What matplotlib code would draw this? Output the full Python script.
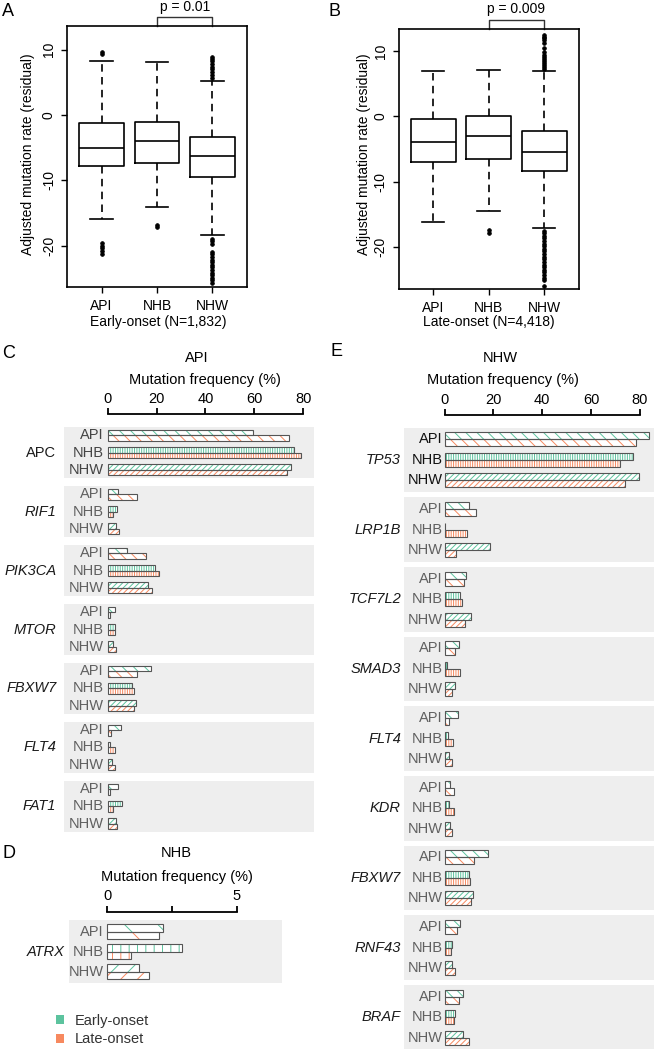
import matplotlib
matplotlib.use('Agg')
import matplotlib.pyplot as plt
import matplotlib.transforms as mtransforms
from matplotlib.patches import Patch

plt.rcParams['font.family'] = ['Liberation Sans', 'DejaVu Sans']
plt.rcParams['axes.unicode_minus'] = False
plt.rcParams['hatch.linewidth'] = 0.7

# ---------------- data ----------------
pops = ['API', 'NHB', 'NHW']

# Panel A: early-onset adjusted mutation rate (box statistics)
a_q1 = [-7.8, -7.35, -9.45]
a_med = [-5.1, -4.0, -6.2]
a_q3 = [-1.2, -1.0, -3.4]
a_whislo = [-15.9, -14.1, -18.4]
a_whishi = [8.3, 8.1, 5.25]
a_fliers_api = [9.3, 9.6, -19.6, -20.0, -20.4, -20.8, -21.2]
a_fliers_nhb = [-16.8, -17.2]
a_fliers_nhw = [5.7, 6.1, 6.5, 7.0, 7.4, 7.8, 8.2, 8.6, 8.9,
                -18.9, -19.3, -19.7, -20.9, -21.3, -21.7, -22.1, -22.5, -22.9,
                -23.3, -23.7, -24.1, -24.5, -24.9, -25.3, -25.7]

# Panel B: late-onset
b_q1 = [-7.05, -6.5, -8.4]
b_med = [-3.9, -3.0, -5.4]
b_q3 = [-0.4, 0.05, -2.3]
b_whislo = [-16.2, -14.45, -17.1]
b_whishi = [6.85, 7.1, 6.9]
b_fliers_api = []
b_fliers_nhb = [-17.4, -17.8]
b_fliers_nhw = [7.3, 7.6, 7.9, 8.2, 8.5, 8.8, 9.1, 9.4, 9.8, 10.4, 11.2, 11.6, 11.9, 12.2, 12.5,
                -17.5, -17.9, -18.3, -18.7, -19.1, -19.5, -19.9, -20.3, -20.7, -21.1, -21.5,
                -21.9, -22.3, -22.7, -23.1, -23.5, -23.9, -24.3, -24.7, -25.0, -26.0]

# Panel C: API-specific genes, mutation frequency (%)
c_genes = ['APC', 'RIF1', 'PIK3CA', 'MTOR', 'FBXW7', 'FLT4', 'FAT1']
c_api_early = [59.3, 4.35, 7.8, 3.0, 17.6, 5.3, 4.4]
c_api_late = [74.0, 11.8, 15.7, 0.9, 12.1, 1.4, 0.9]
c_nhb_early = [76.3, 3.7, 19.2, 2.9, 10.1, 0.9, 5.85]
c_nhb_late = [79.2, 2.3, 21.0, 2.9, 10.6, 3.1, 2.3]
c_nhw_early = [75.1, 3.3, 16.4, 2.0, 11.7, 1.6, 3.5]
c_nhw_late = [73.5, 4.8, 18.0, 3.5, 10.8, 3.0, 3.9]

# Panel D: NHB-specific genes
d_genes = ['ATRX']
d_api_early = [2.15]
d_api_late = [2.0]
d_nhb_early = [2.88]
d_nhb_late = [0.92]
d_nhw_early = [1.23]
d_nhw_late = [1.6]

# Panel E: NHW-specific genes
e_genes = ['TP53', 'LRP1B', 'TCF7L2', 'SMAD3', 'FLT4', 'KDR', 'FBXW7', 'RNF43', 'BRAF']
e_api_early = [83.9, 9.8, 8.9, 6.0, 5.5, 2.2, 17.6, 6.1, 7.7]
e_api_late = [78.6, 12.8, 7.8, 4.1, 1.6, 3.8, 12.2, 5.0, 5.7]
e_nhb_early = [77.1, 0.3, 6.4, 1.0, 1.4, 1.9, 10.0, 3.1, 4.1]
e_nhb_late = [72.1, 9.3, 7.2, 6.1, 3.3, 3.7, 10.5, 2.6, 3.9]
e_nhw_early = [79.6, 18.6, 10.8, 4.4, 1.6, 2.0, 11.6, 3.0, 7.5]
e_nhw_late = [74.1, 4.8, 8.5, 3.0, 3.2, 3.2, 10.8, 4.4, 9.8]

series_labels = ['Early-onset', 'Late-onset']
# --------------------------------------

EARLY = '#5cc39e'
LATE = '#f7895f'
BG = '#eeeeee'
OUTLINE = '#555555'

W, H = 654, 1050
fig = plt.figure(figsize=(W / 100, H / 100), dpi=100)


def rect(l, t, r, b):
    return [l / W, 1 - b / H, (r - l) / W, (b - t) / H]


def ftext(x, y, s, **kw):
    fig.text(x / W, 1 - y / H, s, **kw)


# ---------------- box plots ----------------
def box_panel(box, q1, med, q3, wlo, whi, fliers, ylim, ptext):
    ax = fig.add_axes(rect(*box))
    stats = []
    for i, p in enumerate(pops):
        stats.append(dict(med=med[i], q1=q1[i], q3=q3[i], whislo=wlo[i],
                          whishi=whi[i], fliers=fliers[i], label=p))
    lw = 1.2
    ax.bxp(stats, positions=[1, 2, 3], widths=0.81, showfliers=True,
           boxprops=dict(color='black', lw=lw),
           whiskerprops=dict(color='black', lw=lw, linestyle=(0, (4.5, 3.2))),
           capprops=dict(color='black', lw=lw),
           medianprops=dict(color='black', lw=lw),
           flierprops=dict(marker='o', markerfacecolor='black', markeredgecolor='black',
                           markeredgewidth=0.5, markersize=2.7, linestyle='none'))
    ax.set_xlim(0.378, 3.622)
    ax.set_ylim(*ylim)
    ax.set_yticks([-20, -10, 0, 10])
    ax.set_xticks([1, 2, 3])
    ax.set_xticklabels(pops)
    for s in ax.spines.values():
        s.set_linewidth(1.2)
    ax.tick_params(axis='both', direction='out', length=4, width=1.0, labelsize=10, pad=5)
    ax.tick_params(axis='y', labelrotation=90, pad=4)
    for lab in ax.get_yticklabels():
        lab.set_va('center')
    tr = mtransforms.blended_transform_factory(ax.transData, ax.transAxes)
    hb = 9.0 / ((box[3] - box[1]))
    ax.plot([2, 2, 3, 3], [1, 1 + hb, 1 + hb, 1], transform=tr, color='#333333',
            lw=1.0, clip_on=False)
    ax.text(2.5, 1 + hb + 0.04, ptext, transform=tr, ha='center', va='center', fontsize=10)
    return ax


box_panel((67, 26, 247, 287), a_q1, a_med, a_q3, a_whislo, a_whishi,
          [a_fliers_api, a_fliers_nhb, a_fliers_nhw], (-26.3, 13.6), 'p = 0.01')
box_panel((398.7, 28.7, 578.7, 288.7), b_q1, b_med, b_q3, b_whislo, b_whishi,
          [b_fliers_api, b_fliers_nhb, b_fliers_nhw], (-26.4, 13.4), 'p = 0.009')

ftext(158, 322, 'Early-onset (N=1,832)', ha='center', va='center', fontsize=10)
ftext(489, 322, 'Late-onset (N=4,418)', ha='center', va='center', fontsize=10)
ftext(28.5, 154, 'Adjusted mutation rate (residual)', rotation=90, ha='center', va='center', fontsize=10)
ftext(363.7, 154, 'Adjusted mutation rate (residual)', rotation=90, ha='center', va='center', fontsize=10)

ftext(2, 11, 'A', ha='left', va='center', fontsize=13)
ftext(329, 11, 'B', ha='left', va='center', fontsize=13)


# ---------------- bar panels ----------------
HATCH = {'API': '\\\\\\', 'NHB': '|||||||', 'NHW': '//////'}
HATCH_D = {'API': '\\', 'NHB': '||', 'NHW': '//'}


def bar_panel(box, genes, vals, xlim, ticks, ticklabels, bound, stride, half, row_gap,
              bar_h, spine_off, row_off, gene_off, hatches, first_color, italic_first):
    ax = fig.add_axes(rect(*box))
    ax.patch.set_visible(False)
    n = len(genes)
    ax.set_xlim(*xlim)
    ax.set_ylim((n - 1) * stride + half, -half)
    for g in range(n):
        c = g * stride
        ax.axhspan(c - half, c + half, color=BG, lw=0, zorder=0)
        for r, p in enumerate(pops):
            yrow = c + (r - 1) * row_gap
            for k, col in enumerate([EARLY, LATE]):
                y = yrow + (k - 0.5) * bar_h
                v = vals[p][k][g]
                ax.barh(y, v, height=bar_h, left=0, facecolor='white', edgecolor=col,
                        hatch=hatches[p], linewidth=0, zorder=2)
                ax.barh(y, v, height=bar_h, left=0, facecolor='none', edgecolor=OUTLINE,
                        linewidth=0.8, zorder=3)
            tc = first_color if g == 0 else '#606060'
            ax.annotate(p, xy=(0, yrow), xytext=(-row_off, 0), textcoords='offset points',
                        ha='right', va='center', fontsize=10.5, color=tc)
        style = 'italic' if (g > 0 or italic_first) else 'normal'
        ax.annotate(genes[g], xy=(0, c), xytext=(-gene_off, 0), textcoords='offset points',
                    ha='right', va='center', fontsize=10.5, color='#1a1a1a', style=style)
    for s in ['left', 'right', 'bottom']:
        ax.spines[s].set_visible(False)
    sp = ax.spines['top']
    sp.set_position(('outward', spine_off))
    sp.set_bounds(*bound)
    sp.set_linewidth(1.3)
    ax.xaxis.set_ticks_position('top')
    ax.set_xticks(ticks)
    ax.set_xticklabels(ticklabels)
    ax.tick_params(axis='x', direction='out', length=4, width=1.3, pad=2, labelsize=10.5)
    ax.set_yticks([])
    return ax


c_vals = {'API': (c_api_early, c_api_late), 'NHB': (c_nhb_early, c_nhb_late),
          'NHW': (c_nhw_early, c_nhw_late)}
bar_panel((64.3, 426.7, 314.3, 832.3), c_genes, c_vals, (-17.75, 84.5),
          [0, 20, 40, 60, 80], ['0', '20', '40', '60', '80'], (0, 80),
          59.0, 25.85, 17.3, 5.5, 9.1, 2.7, 37, HATCH, '#444444', False)

d_vals = {'API': (d_api_early, d_api_late), 'NHB': (d_nhb_early, d_nhb_late),
          'NHW': (d_nhw_early, d_nhw_late)}
bar_panel((69.3, 920, 281.7, 983.3), d_genes, d_vals, (-1.468, 6.739),
          [0, 2.5, 5], ['0', '', '5'], (0, 5),
          60.0, 31.65, 20.0, 7.3, 6.0, 2.5, 30.5, HATCH_D, '#606060', True)

e_vals = {'API': (e_api_early, e_api_late), 'NHB': (e_nhb_early, e_nhb_late),
          'NHW': (e_nhw_early, e_nhw_late)}
bar_panel((404.3, 427.7, 653.7, 1049.5), e_genes, e_vals, (-16.57, 85.74),
          [0, 20, 40, 60, 80], ['0', '20', '40', '60', '80'], (0, 80),
          69.66, 32.25, 20.5, 7.0, 9.1, 1.3, 31.5, HATCH, '#111111', True)

# titles for bar panels
ftext(2, 353, 'C', ha='left', va='center', fontsize=13)
ftext(197, 358, 'API', ha='center', va='center', fontsize=10.5)
ftext(205, 380, 'Mutation frequency (%)', ha='center', va='center', fontsize=10.5)

ftext(2, 853, 'D', ha='left', va='center', fontsize=13)
ftext(176.7, 853.3, 'NHB', ha='center', va='center', fontsize=10.5)
ftext(176.5, 876.7, 'Mutation frequency (%)', ha='center', va='center', fontsize=10.5)

ftext(331, 352, 'E', ha='left', va='center', fontsize=13)
ftext(500, 358.3, 'NHW', ha='center', va='center', fontsize=10.5)
ftext(502.8, 380, 'Mutation frequency (%)', ha='center', va='center', fontsize=10.5)

# legend
handles = [Patch(facecolor=EARLY, edgecolor='none'), Patch(facecolor=LATE, edgecolor='none')]
leg = fig.legend(handles, series_labels, loc='upper left',
                 bbox_to_anchor=(56 / W, 1 - 1014 / H), frameon=False,
                 handlelength=0.55, handleheight=0.55, handletextpad=0.75,
                 labelspacing=0.3, fontsize=10.5, borderpad=0, borderaxespad=0)
for t in leg.get_texts():
    t.set_color('#333333')

fig.savefig('out.png', dpi=100)
